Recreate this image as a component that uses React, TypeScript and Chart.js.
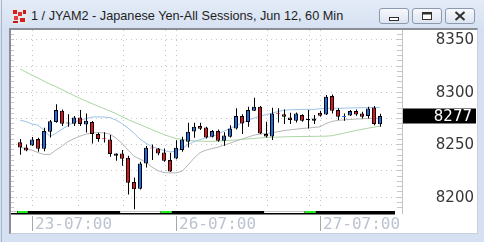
import React, { useEffect, useRef } from 'react';
import { Chart, registerables } from 'chart.js';

Chart.register(...registerables);

// ---- data (hourly bars, index 0..60) ----
const opens = [
  8252.0, 8246.9, 8248.8, 8254.9, 8245.7, 8261.9, 8271.1, 8281.9, 8269.8, 8269.5,
  8275.5, 8268.9, 8271.1, 8259.7, 8255.2, 8254.6, 8239.0, 8241.2, 8237.1, 8213.9,
  8207.5, 8231.7, 8246.3, 8246.0, 8242.2, 8234.9, 8236.4, 8244.4, 8252.3, 8262.2,
  8267.3, 8266.0, 8257.1, 8262.5, 8253.3, 8257.1, 8265.0, 8276.8, 8271.1, 8281.9,
  8285.8, 8259.7, 8257.4, 8279.0, 8278.7, 8275.5, 8272.4, 8277.8, 8273.0, 8272.4,
  8280.0, 8278.4, 8295.9, 8282.6, 8276.0, 8277.5, 8281.6, 8279.4, 8276.8, 8285.1,
  8269.0,
];
const highs = [
  8254.9, 8249.8, 8256.8, 8256.2, 8265.7, 8273.0, 8288.0, 8283.2, 8278.7, 8276.8,
  8282.6, 8279.4, 8272.1, 8260.9, 8261.5, 8258.7, 8241.5, 8244.4, 8239.0, 8218.3,
  8233.3, 8248.2, 8249.8, 8246.5, 8246.0, 8241.9, 8253.9, 8257.1, 8270.5, 8270.5,
  8270.5, 8266.6, 8263.5, 8264.1, 8261.5, 8268.2, 8284.2, 8278.7, 8285.8, 8294.3,
  8286.4, 8271.4, 8284.8, 8284.2, 8283.2, 8280.0, 8280.3, 8278.7, 8282.6, 8277.8,
  8281.6, 8296.9, 8297.5, 8284.2, 8279.4, 8282.6, 8283.2, 8281.0, 8285.8, 8286.4,
  8279.0,
];
const lows = [
  8239.9, 8243.4, 8248.2, 8242.8, 8243.4, 8256.5, 8270.5, 8267.3, 8266.6, 8267.3,
  8267.3, 8261.2, 8250.8, 8252.3, 8251.7, 8238.0, 8234.2, 8229.4, 8202.1, 8188.1,
  8206.9, 8227.8, 8234.9, 8239.6, 8233.3, 8223.7, 8235.8, 8242.8, 8247.0, 8256.1,
  8263.5, 8255.5, 8256.5, 8252.3, 8248.5, 8256.5, 8264.1, 8259.7, 8266.6, 8281.6,
  8259.7, 8256.5, 8254.0, 8270.8, 8269.2, 8269.2, 8270.8, 8271.4, 8265.0, 8269.2,
  8276.2, 8277.8, 8279.4, 8273.0, 8272.4, 8276.8, 8277.2, 8274.6, 8274.6, 8268.2,
  8266.6,
];
const closes = [
  8246.9, 8244.1, 8254.6, 8245.7, 8262.5, 8272.0, 8282.6, 8269.5, 8269.8, 8275.5,
  8269.2, 8272.4, 8259.7, 8254.9, 8254.8, 8240.6, 8241.2, 8236.1, 8213.2, 8207.2,
  8231.7, 8246.6, 8245.9, 8241.2, 8234.2, 8223.9, 8246.6, 8254.6, 8261.9, 8266.6,
  8264.7, 8256.5, 8262.5, 8253.3, 8258.4, 8265.0, 8276.8, 8269.8, 8282.6, 8285.8,
  8260.3, 8257.4, 8279.4, 8278.6, 8276.2, 8273.0, 8279.4, 8272.4, 8273.0, 8274.6,
  8277.2, 8295.3, 8281.9, 8276.2, 8276.4, 8281.6, 8278.4, 8276.2, 8284.1, 8269.2,
  8277.0,
];
// long moving average (green)
const maLong = [
  8321.7, 8318.8, 8315.9, 8313.1, 8310.2, 8307.3, 8305.0, 8302.1, 8299.2, 8296.4,
  8293.7, 8291.1, 8288.7, 8286.4, 8284.0, 8281.6, 8279.2, 8276.3, 8273.5, 8271.1,
  8268.7, 8266.3, 8263.9, 8261.5, 8259.2, 8257.3, 8255.3, 8254.6, 8253.9, 8253.3,
  8253.0, 8252.8, 8252.8, 8253.0, 8253.3, 8253.7, 8254.1, 8254.6, 8255.1, 8255.5,
  8256.0, 8256.4, 8256.6, 8256.8, 8257.0, 8257.2, 8257.3, 8257.4, 8257.4, 8257.5,
  8257.6, 8257.7, 8258.1, 8259.4, 8260.6, 8261.9, 8263.1, 8264.2, 8265.3, 8266.3,
  8267.3,
];
// upper band (light blue)
const bandUpper = [
  8273.0, 8271.6, 8269.2, 8268.2, 8263.5, 8257.3, 8260.6, 8264.4, 8267.7, 8271.1,
  8273.0, 8274.4, 8275.9, 8276.1, 8275.9, 8275.4, 8273.0, 8269.7, 8265.4, 8260.6,
  8254.9, 8251.0, 8247.7, 8245.8, 8243.9, 8242.7, 8243.4, 8245.8, 8249.6, 8252.5,
  8254.4, 8256.3, 8257.3, 8259.6, 8262.5, 8265.1, 8267.7, 8270.1, 8273.0, 8274.9,
  8276.8, 8278.2, 8279.7, 8281.1, 8282.5, 8282.8, 8283.0, 8283.2, 8283.2, 8283.2,
  8283.8, 8284.2, 8284.3, 8284.3, 8284.4, 8284.6, 8284.7, 8284.8, 8284.9, 8285.0,
  8285.1,
];
// lower band (gray)
const bandLower = [
  8247.2, 8245.8, 8244.4, 8242.0, 8240.3, 8240.3, 8244.4, 8248.2, 8252.5, 8255.3,
  8257.7, 8259.6, 8260.9, 8261.1, 8260.9, 8259.6, 8255.8, 8251.0, 8244.4, 8238.6,
  8235.8, 8232.9, 8228.2, 8224.8, 8222.9, 8222.7, 8222.7, 8224.3, 8230.1, 8236.7,
  8242.0, 8244.4, 8245.8, 8247.2, 8249.1, 8251.0, 8253.0, 8254.9, 8256.8, 8258.7,
  8259.6, 8260.3, 8260.8, 8262.0, 8263.0, 8263.7, 8264.4, 8265.0, 8265.5, 8266.0,
  8266.6, 8269.7, 8271.8, 8272.7, 8273.2, 8273.6, 8274.0, 8274.2, 8274.6, 8274.7,
  8274.9,
];
const priceLabels = [8200, 8250, 8300, 8350];
const lastPrice = 8277;
const timeLabels = ['23-07:00', '26-07:00', '27-07:00'];
const timeLabelIndex = [2, 26, 50];
const gridIndex = [2, 9.6, 17.1, 24.2, 26, 41.1, 48.1, 50];
const sessionWhite = [[-1.5, -0.5], [16.7, 23.4], [40.7, 47.4]];
const sessionGreen = [[-0.4, 1.3], [23.5, 25.3], [47.5, 49.3]];
const sessionEnd = 62.5;

const UP = '#1a6ee8';
const DOWN = '#e5101a';

const candleColor = (i: number) =>
  closes[i] > opens[i] ? UP : closes[i] < opens[i] ? DOWN : '#000000';

const decorPlugin = {
  id: 'decor',
  beforeDatasetsDraw(chart: any) {
    const { ctx, chartArea: a, scales } = chart;
    const x = scales.x;
    const y = scales.y;
    ctx.save();
    ctx.lineWidth = 1;
    ctx.strokeStyle = '#c6c6c6';
    ctx.setLineDash([1, 4]);
    for (let v = 8200; v <= 8350; v += 25) {
      const py = Math.round(y.getPixelForValue(v)) + 0.5;
      ctx.beginPath();
      ctx.moveTo(a.left, py);
      ctx.lineTo(a.right, py);
      ctx.stroke();
    }
    for (const gi of gridIndex) {
      const px = Math.round(x.getPixelForValue(gi)) + 0.5;
      ctx.beginPath();
      ctx.moveTo(px, a.top);
      ctx.lineTo(px, a.bottom);
      ctx.stroke();
    }
    ctx.setLineDash([]);
    ctx.strokeStyle = '#c8c8c8';
    for (let v = 8190; v <= 8355; v += 5) {
      const py = Math.round(y.getPixelForValue(v)) + 0.5;
      ctx.beginPath();
      ctx.moveTo(a.left, py);
      ctx.lineTo(a.left + 3, py);
      ctx.moveTo(a.right - 5, py);
      ctx.lineTo(a.right, py);
      ctx.stroke();
    }
    ctx.restore();
  },
  afterDraw(chart: any) {
    const { ctx, chartArea: a, scales } = chart;
    const x = scales.x;
    const y = scales.y;
    ctx.save();
    // right border of plot
    ctx.strokeStyle = '#c4c4c4';
    ctx.lineWidth = 1;
    ctx.beginPath();
    ctx.moveTo(a.right + 0.5, a.top);
    ctx.lineTo(a.right + 0.5, a.bottom + 4);
    ctx.stroke();

    // session bar
    const barTop = a.bottom + 1;
    const xStart = a.left;
    const xEnd = x.getPixelForValue(sessionEnd);
    ctx.fillStyle = '#000';
    ctx.fillRect(xStart, barTop, xEnd - xStart, 3.5);
    for (const [s, e] of sessionWhite) {
      const x0 = Math.max(a.left, x.getPixelForValue(s));
      const x1 = x.getPixelForValue(e);
      ctx.fillStyle = '#ffffff';
      ctx.fillRect(x0, barTop, x1 - x0, 2);
      ctx.fillStyle = '#c8c8c8';
      ctx.fillRect(x0, barTop, x1 - x0, 1);
    }
    for (const [s, e] of sessionGreen) {
      const x0 = x.getPixelForValue(s);
      const x1 = x.getPixelForValue(e);
      ctx.fillStyle = '#20f020';
      ctx.fillRect(x0, barTop, x1 - x0, 2);
    }

    // time labels
    ctx.font = '16px "DejaVu Sans Mono"';
    ctx.textAlign = 'left';
    ctx.textBaseline = 'alphabetic';
    timeLabels.forEach((t, k) => {
      const px = Math.round(x.getPixelForValue(timeLabelIndex[k])) + 0.5;
      ctx.strokeStyle = '#a8a8a8';
      ctx.beginPath();
      ctx.moveTo(px, a.bottom + 6);
      ctx.lineTo(px, a.bottom + 21);
      ctx.stroke();
      ctx.fillStyle = '#bcc3cf';
      ctx.fillText(t, px + 2.5, a.bottom + 19);
    });

    // price labels
    ctx.font = '15px "DejaVu Sans"';
    ctx.textAlign = 'right';
    ctx.textBaseline = 'middle';
    ctx.fillStyle = '#363636';
    for (const v of priceLabels) {
      ctx.fillText(String(v), 474, y.getPixelForValue(v) + 1);
    }
    // last price box
    const ly = y.getPixelForValue(lastPrice);
    ctx.fillStyle = '#000';
    ctx.fillRect(a.right + 1, Math.round(ly) - 7.5, 73, 15);
    ctx.fillStyle = '#ffffff';
    ctx.fillText(String(lastPrice), 472, ly + 1);
    ctx.restore();
  },
};

function ChartCanvas() {
  const ref = useRef<HTMLCanvasElement | null>(null);
  useEffect(() => {
    if (!ref.current) return;
    const idx = closes.map((_, i) => i);
    const chart = new Chart(ref.current, {
      type: 'bar',
      data: {
        datasets: [
          {
            type: 'line',
            data: idx.map((i) => ({ x: i, y: maLong[i] })),
            borderColor: '#acd6a4',
            borderWidth: 1,
            pointRadius: 0,
            tension: 0,
            order: 5,
            xAxisID: 'x',
          } as any,
          {
            type: 'line',
            data: idx.map((i) => ({ x: i, y: bandUpper[i] })),
            borderColor: '#9ec2ea',
            borderWidth: 1,
            pointRadius: 0,
            tension: 0,
            order: 4,
            xAxisID: 'x',
          } as any,
          {
            type: 'line',
            data: idx.map((i) => ({ x: i, y: bandLower[i] })),
            borderColor: '#b6b6b6',
            borderWidth: 1,
            pointRadius: 0,
            tension: 0,
            order: 3,
            xAxisID: 'x',
          } as any,
          {
            type: 'bar',
            data: idx.map((i) => ({ x: i, y: [lows[i], highs[i]] })),
            backgroundColor: '#000000',
            borderWidth: 0,
            barThickness: 1,
            grouped: false,
            inflateAmount: 0,
            order: 2,
            xAxisID: 'xw',
          } as any,
          {
            type: 'bar',
            data: idx.map((i) => ({ x: i, y: [opens[i], closes[i]] })),
            backgroundColor: idx.map((i) => candleColor(i)),
            borderColor: idx.map((i) =>
              Math.abs(closes[i] - opens[i]) < 1 ? candleColor(i) : '#000000'
            ),
            borderWidth: 1,
            borderSkipped: false,
            barThickness: 4,
            minBarLength: 1,
            grouped: false,
            inflateAmount: 0,
            order: 1,
            xAxisID: 'x',
          } as any,
        ],
      },
      options: {
        responsive: false,
        animation: false,
        devicePixelRatio: 1,
        layout: { padding: { left: 11, top: 30, right: 82, bottom: 32 } },
        plugins: { legend: { display: false }, tooltip: { enabled: false } },
        events: [],
        scales: {
          x: { type: 'linear', min: -1.5, max: 63.6667, display: false, offset: false },
          xw: { type: 'linear', min: -1.5 - 1 / 12, max: 63.6667 - 1 / 12, display: false, offset: false },
          y: { type: 'linear', min: 8187.3, max: 8358.9, display: false },
        },
      } as any,
      plugins: [decorPlugin],
    });
    return () => chart.destroy();
  }, []);
  return (
    <canvas
      ref={ref}
      width={484}
      height={242}
      style={{ position: 'absolute', left: 0, top: 0, width: 484, height: 242 }}
    />
  );
}

const btn = (left: number, icon: React.ReactNode) => (
  <div
    style={{
      position: 'absolute',
      left,
      top: 8,
      width: 30,
      height: 16,
      boxSizing: 'border-box',
      border: '1px solid #8c9ab0',
      borderRadius: 3,
      background: 'linear-gradient(#f6f8fc, #dde5f0)',
    }}
  >
    <svg width={28} height={14} style={{ position: 'absolute', left: 0, top: 0 }}>
      {icon}
    </svg>
  </div>
);

export default function App() {
  return (
    <div
      style={{
        position: 'fixed',
        left: 0,
        top: 0,
        width: 484,
        height: 242,
        overflow: 'hidden',
        background: '#d5e1f2',
        fontFamily: '"Liberation Sans", Arial, sans-serif',
      }}
    >
      <div
        style={{
          position: 'absolute',
          left: 0,
          top: 0,
          width: 484,
          height: 28,
          background: 'linear-gradient(#e3ebf6, #d6e1f2)',
        }}
      />
      <div style={{ position: 'absolute', left: 1, top: 0, width: 1, height: 242, background: '#a9b6c8' }} />
      {/* app icon */}
      <svg width={15} height={15} style={{ position: 'absolute', left: 12, top: 9 }}>
        <rect x={0} y={0} width={15} height={15} fill="#e9e9e9" />
        <rect x={1} y={1} width={4} height={4} fill="#d42020" />
        <rect x={6} y={3} width={4} height={4} fill="#e03030" />
        <rect x={11} y={1} width={3} height={4} fill="#c81818" />
        <rect x={2} y={7} width={4} height={4} fill="#e04040" />
        <rect x={8} y={9} width={5} height={4} fill="#d02020" />
        <rect x={1} y={12} width={5} height={2} fill="#b81c1c" />
      </svg>
      <div
        style={{
          position: 'absolute',
          left: 31,
          top: 9,
          fontSize: 12.7,
          lineHeight: '14px',
          color: '#1e1e1e',
          whiteSpace: 'nowrap',
        }}
      >
        1 / JYAM2 - Japanese Yen-All Sessions, Jun 12, 60 Min
      </div>
      {btn(379, <rect x={9.5} y={8.5} width={9} height={3} fill="#fff" stroke="#303030" />)}
      {btn(
        412,
        <g>
          <rect x={9.5} y={3.5} width={9} height={7} fill="#fff" stroke="#303030" />
          <rect x={9.5} y={3.5} width={9} height={2} fill="#303030" />
        </g>
      )}
      {btn(
        445,
        <g stroke="#303030" strokeWidth={2}>
          <line x1={9.5} y1={3} x2={18.5} y2={11} />
          <line x1={18.5} y1={3} x2={9.5} y2={11} />
        </g>
      )}
      {/* client area */}
      <div
        style={{
          position: 'absolute',
          left: 9,
          top: 28,
          width: 469,
          height: 206,
          boxSizing: 'border-box',
          background: '#ffffff',
          borderTop: '2px solid #8a8f96',
          borderLeft: '2px solid #8a8f96',
          borderRight: '1px solid #c9cfd8',
          borderBottom: '1px solid #c9cfd8',
        }}
      />
      <ChartCanvas />
    </div>
  );
}
